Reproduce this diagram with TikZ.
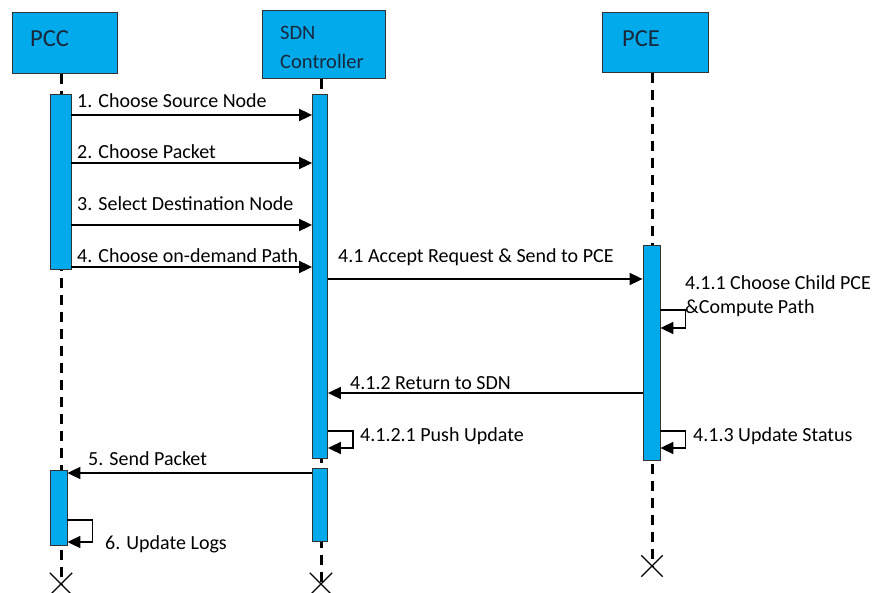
\documentclass[tikz,border=0pt]{standalone}
\usepackage{fontspec}
\setmainfont{Carlito}
\usetikzlibrary{arrows.meta,shapes.misc}
\definecolor{boxblue}{RGB}{0,170,235}
\definecolor{hdrtext}{RGB}{25,40,60}
\tikzset{
  hdr/.style={draw=black!80, line width=0.8pt, fill=boxblue, inner sep=0pt, text=hdrtext},
  bar/.style={draw=black!80, line width=0.8pt, fill=boxblue, inner sep=0pt, minimum width=#1, anchor=north},
  life/.style={line width=3pt, dash pattern=on 10pt off 7pt},
  msg/.style={line width=1.7pt, -{Triangle[length=13pt,width=12pt]}},
  lbl/.style={font=\fontsize{20}{23}\selectfont, inner sep=0pt, anchor=base west},
  endx/.style={cross out, draw, line width=1.3pt, minimum size=#1, inner sep=0pt}
}
\begin{document}
\begin{tikzpicture}[x=1pt,y=-1pt]
\useasboundingbox (0,0) rectangle (875,593);
% headers
\node[hdr, minimum width=105, minimum height=61, anchor=north west] (pcc) at (12,12) {};
\node[font=\fontsize{24.5}{28}\selectfont, text=hdrtext, anchor=base west, inner sep=0pt] (pcct) at (30,47) {PCC};
\node[hdr, minimum width=123, minimum height=68, anchor=north west] (sdn) at (262,10) {};
\node[font=\fontsize{20.5}{29}\selectfont, text=hdrtext, anchor=base west, inner sep=0pt] (sdnt1) at (280,40) {SDN};
\node[font=\fontsize{20.5}{29}\selectfont, text=hdrtext, anchor=base west, inner sep=0pt] (sdnt2) at (280,69) {Controller};
\node[hdr, minimum width=106, minimum height=60, anchor=north west] (pce) at (602,12) {};
\node[font=\fontsize{24.5}{28}\selectfont, text=hdrtext, anchor=base west, inner sep=0pt] (pcet) at (622,47) {PCE};
% end marks
\node[endx=21] (pccx) at (61,584) {};
\node[endx=21] (sdnx) at (321,584) {};
\node[endx=20] (pcex) at (652,566) {};
% lifelines
\draw[life] (pcc.south -| pccx) -- (pccx.center);
\draw[life] (sdn.south -| sdnx) -- (sdnx.center);
\draw[life] (pce.south -| pcex) -- (pcex.center);
% activation bars
\node[bar=21, minimum height=175] (pccb1) at (60.5,94) {};
\node[bar=17, minimum height=75] (pccb2) at (58.5,470) {};
\node[bar=15, minimum height=364] (sdnb1) at (320,94) {};
\node[bar=15, minimum height=73] (sdnb2) at (320,468) {};
\node[bar=17, minimum height=215] (pceb) at (651.5,245) {};
% messages PCC -> SDN
\draw[msg] (pccb1.east |- 0,115) -- (sdnb1.west |- 0,115);
\node[lbl] (l1) at (77,108) {1. Choose Source Node};
\draw[msg] (pccb1.east |- 0,163) -- (sdnb1.west |- 0,163);
\node[lbl] (l2) at (77,159) {2. Choose Packet};
\draw[msg] (pccb1.east |- 0,225) -- (sdnb1.west |- 0,225);
\node[lbl] (l3) at (77,211) {3. Select Destination Node};
\draw[msg] (pccb1.east |- 0,267) -- (sdnb1.west |- 0,267);
\node[lbl] (l4) at (77,263) {4. Choose on-demand Path};
% 4.1
\draw[msg] (sdnb1.east |- 0,279) -- (pceb.west |- 0,279);
\node[lbl] (l41) at (338,263) {4.1 Accept Request \& Send to PCE};
% 4.1.1 self
\draw[msg] (pceb.east |- 0,310) -- ++(25,0) |- (pceb.east |- 0,328);
\node[lbl] (l411a) at (685,290) {4.1.1 Choose Child PCE};
\node[lbl] (l411b) at (685,314) {\&Compute Path};
% 4.1.2
\draw[msg] (pceb.west |- 0,393) -- (sdnb1.east |- 0,393);
\node[lbl] (l412) at (350,389) {4.1.2 Return to SDN};
% 4.1.2.1 self
\draw[msg] (sdnb1.east |- 0,431) -- ++(25,0) |- (sdnb1.east |- 0,448);
\node[lbl] (l4121) at (360,441) {4.1.2.1 Push Update};
% 4.1.3 self
\draw[msg] (pceb.east |- 0,431) -- ++(25,0) |- (pceb.east |- 0,448);
\node[lbl] (l413) at (693,441) {4.1.3 Update Status};
% 5
\draw[msg] (sdnb2.west |- 0,473) -- (pccb2.east |- 0,473);
\node[lbl] (l5) at (88,465) {5. Send Packet};
% 6 self
\draw[msg] (pccb2.east |- 0,520) -- ++(25,0) |- (pccb2.east |- 0,542);
\node[lbl] (l6) at (105,549) {6. Update Logs};
\end{tikzpicture}
\end{document}
